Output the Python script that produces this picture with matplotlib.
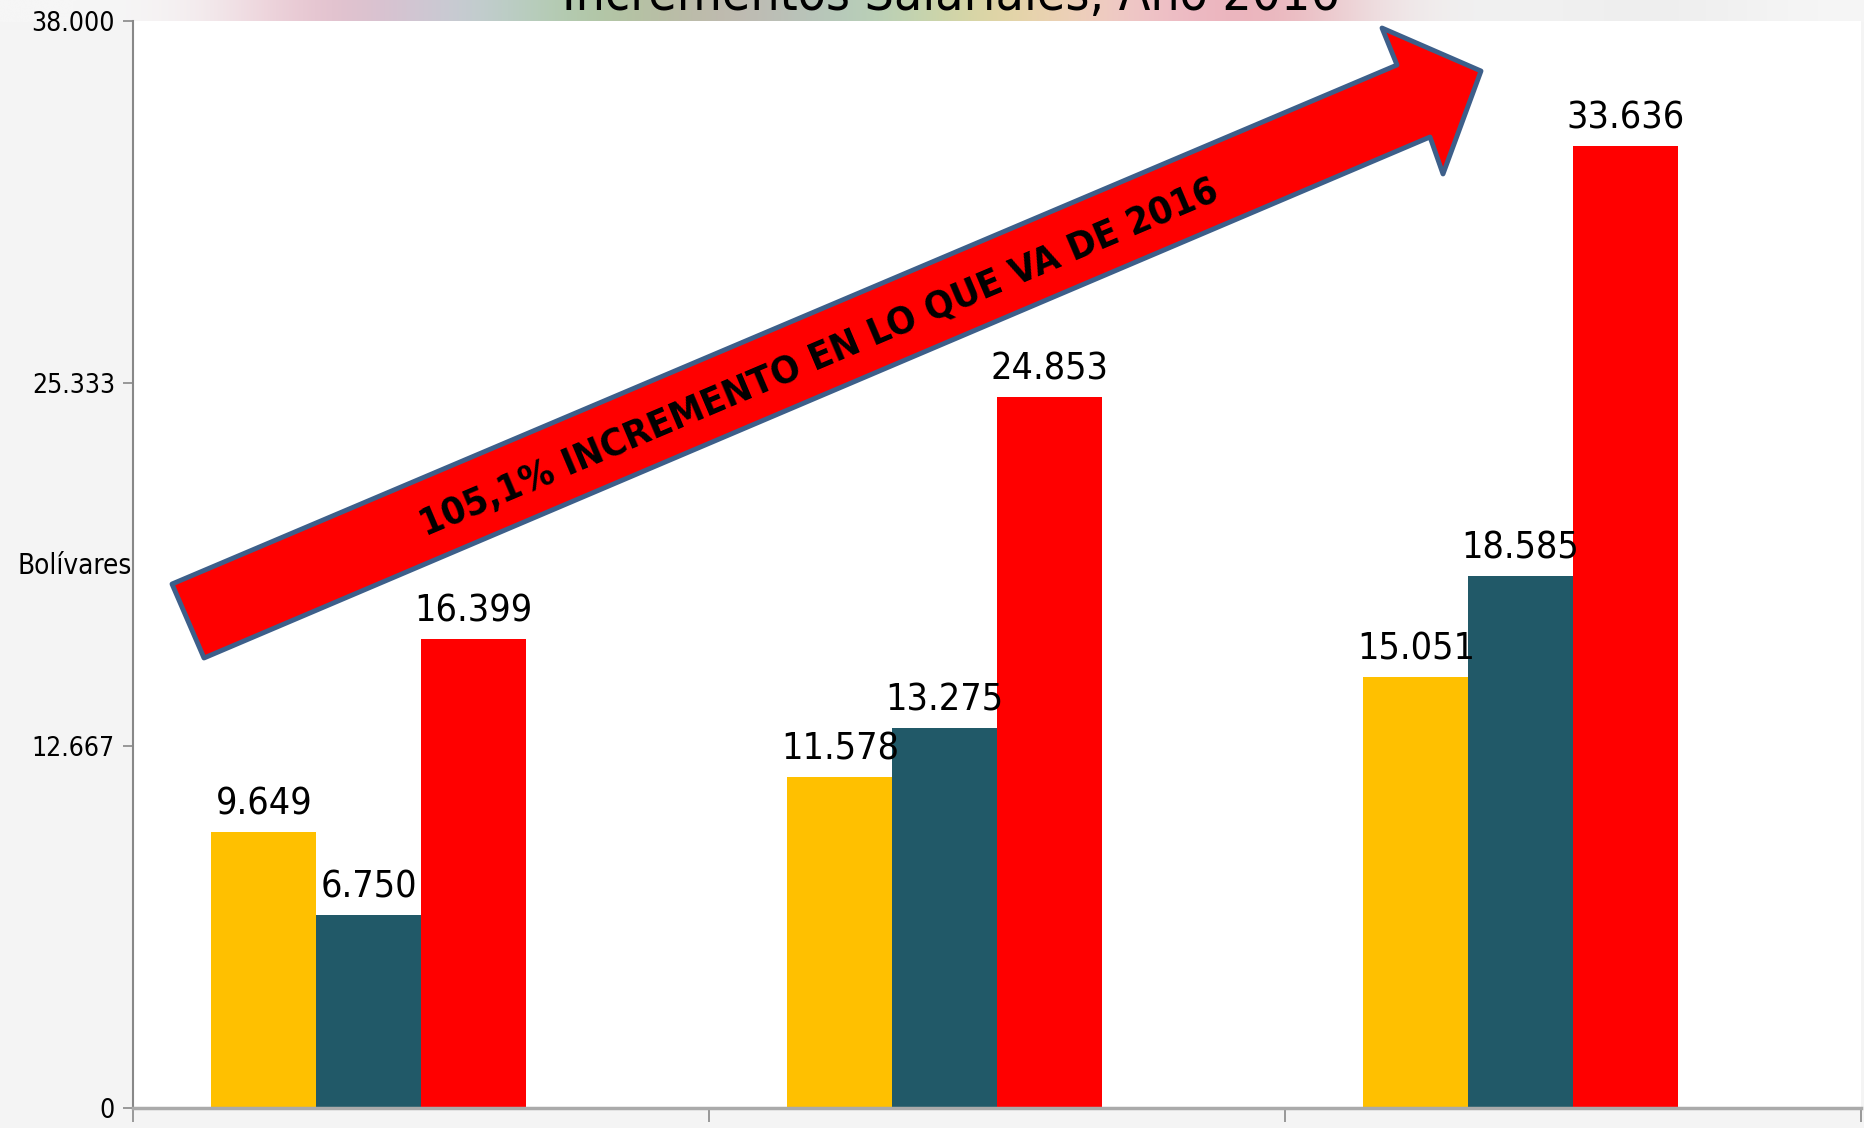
import matplotlib.pyplot as plt
import matplotlib.patches as mpatches
from matplotlib.colors import to_rgb
import numpy as np

W, H = 1864, 1128

categories = ['1', '2', '3']
serie_a = [9649, 11578, 15051]     # amarillo
serie_b = [6750, 13275, 18585]     # azul petroleo
serie_c = [16399, 24853, 33636]    # rojo
yticks = [0, 12667, 25333, 38000]
ytick_labels = ['0', '12.667', '25.333', '38.000']

# franja de colores del fondo (arriba)
strip_colors = ['#f6f6f6', '#f6f6f6', '#e6b4c2', '#c4d2e2', '#a9c997', '#c9b2b2',
                '#a9d2c2', '#e8d894', '#f2cbd8', '#e8a4ac', '#f0f0f0', '#f2f2f2',
                '#ececec', '#f6f6f6']

narrow = ['DejaVu Sans', 'Liberation Sans']


def fmt(v):
    return '{:,}'.format(v).replace(',', '.')


fig = plt.figure(figsize=(W / 100, H / 100), dpi=100, facecolor='#f4f4f4')

bg = fig.add_axes([0, 1 - 22 / H, 1, 22 / H], zorder=-5)
bg.imshow(np.array([[to_rgb(c) for c in strip_colors]]), aspect='auto',
          interpolation='bicubic', extent=[0, 1, 0, 1])
bg.set_axis_off()

ax = fig.add_axes([133 / W, 20 / H, (1861 - 133) / W, (1108 - 21) / H])
ax.set_facecolor('white')

x = np.arange(len(categories))
w = 0.182
for vals, off, col in [(serie_a, -1.5, '#ffc000'), (serie_b, -0.5, '#215968'),
                       (serie_c, 0.5, '#ff0000')]:
    bars = ax.bar(x + off * w, vals, width=w, color=col, zorder=2)
    for b, v in zip(bars, vals):
        ax.annotate(fmt(v), (b.get_x() + b.get_width() / 2, v),
                    xytext=(0, 7), textcoords='offset points',
                    ha='center', va='bottom', fontsize=27, family=narrow,
                    fontstretch='condensed')

ax.set_xlim(-0.5, 2.5)
ax.set_ylim(0, 38000)
ax.set_xticks([-0.5, 0.5, 1.5, 2.5])
ax.set_xticklabels([])
ax.set_yticks(yticks)
ax.set_yticklabels(ytick_labels, family=narrow, fontsize=19, fontstretch='condensed')
ax.tick_params(axis='x', length=10, color='#888888', width=1.2)
ax.tick_params(axis='y', length=7, color='#888888', width=1.2, pad=6)
for s in ['top', 'right']:
    ax.spines[s].set_visible(False)
ax.spines['left'].set_color('#888888')
ax.spines['left'].set_linewidth(1.5)
ax.spines['bottom'].set_color('#aaaaaa')
ax.spines['bottom'].set_linewidth(2.5)

fig.text(75 / W, 1 - 566 / H, 'Bolívares', ha='center', va='center',
         fontsize=20, family=narrow, fontstretch='condensed')

# titulo, cortado por el borde superior como en la imagen original
fig.text(951 / W, 1 - 10 / H, 'Incrementos Salariales, Año 2016', ha='center',
         va='baseline', fontsize=37, family=narrow, fontstretch='condensed')

pts = [(172, 584), (1397, 65), (1382, 28), (1481, 71), (1443, 174),
       (1430, 137), (204, 658)]
arrow = mpatches.Polygon([(px / W, 1 - py / H) for px, py in pts], closed=True,
                         transform=fig.transFigure, facecolor='#ff0000',
                         edgecolor='#3d5f8a', linewidth=3.5, joinstyle='round',
                         zorder=5)
fig.patches.append(arrow)
fig.text(820 / W, 1 - 359 / H, '105,1% INCREMENTO EN LO QUE VA DE 2016',
         rotation=23, ha='center', va='center', fontsize=27.5, fontweight='bold',
         family=narrow, fontstretch='condensed', zorder=6)

fig.savefig('out.png', dpi=100, facecolor=fig.get_facecolor())
